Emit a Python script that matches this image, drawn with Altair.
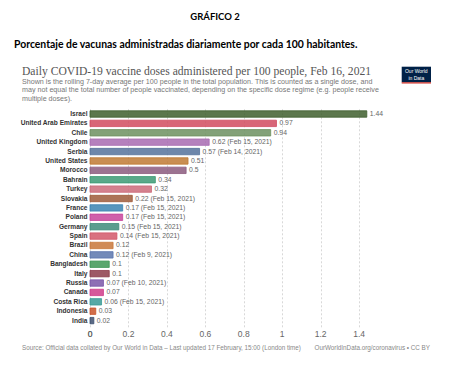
import altair as alt
import pandas as pd

countries = ["Israel", "United Arab Emirates", "Chile", "United Kingdom", "Serbia",
             "United States", "Morocco", "Bahrain", "Turkey", "Slovakia", "France",
             "Poland", "Germany", "Spain", "Brazil", "China", "Bangladesh", "Italy",
             "Russia", "Canada", "Costa Rica", "Indonesia", "India"]
values = [1.44, 0.97, 0.94, 0.62, 0.57, 0.51, 0.50, 0.34, 0.32, 0.22, 0.17, 0.17,
          0.15, 0.14, 0.12, 0.12, 0.10, 0.10, 0.07, 0.07, 0.06, 0.03, 0.02]
value_labels = ["1.44", "0.97", "0.94", "0.62", "0.57", "0.51", "0.5", "0.34", "0.32",
                "0.22", "0.17", "0.17", "0.15", "0.14", "0.12", "0.12", "0.1", "0.1",
                "0.07", "0.07", "0.06", "0.03", "0.02"]
dates = ["", "", "", "Feb 15, 2021", "Feb 14, 2021", "", "", "", "", "Feb 15, 2021",
         "Feb 15, 2021", "Feb 15, 2021", "Feb 15, 2021", "Feb 15, 2021", "", "Feb 9, 2021",
         "", "", "Feb 10, 2021", "", "Feb 15, 2021", "", ""]
colors = ["#3f5f2e", "#d14b5f", "#6d9160", "#a86bb1", "#55729b", "#c07a34", "#8b5a7e",
          "#3c9a74", "#cc6b7a", "#9e5a3a", "#3b84b2", "#c7439b", "#3d8c7a", "#d2586a",
          "#c8773a", "#5a75ad", "#3d9654", "#8c3c4a", "#7a56a8", "#cf3c8a", "#3a9a96",
          "#c9552b", "#3e5070"]
x_ticks = [0, 0.2, 0.4, 0.6, 0.8, 1.0, 1.2, 1.4]

df = pd.DataFrame({
    "country": countries,
    "value": values,
    "label": [v + (f" ({d})" if d else "") for v, d in zip(value_labels, dates)],
})
ticks_df = pd.DataFrame({"tick": x_ticks})

W, H = 346, 219
# plot-area origin in page coords
OX, OY = 90, 107.8

def px(x):
    return x - OX

def py(y):
    return y - OY

xscale = alt.Scale(domain=[0, 1.8], nice=False)

base = alt.Chart(df)

bars = base.mark_bar(fillOpacity=0.85, strokeWidth=0.8).encode(
    x=alt.X("value:Q", scale=xscale,
            axis=alt.Axis(values=x_ticks, title=None, grid=True, gridDash=[2, 2],
                          gridColor="#d8d8d8", domain=False, ticks=False, labels=False)),
    y=alt.Y("country:N", sort=countries,
            scale=alt.Scale(paddingInner=0.32, paddingOuter=0.32),
            axis=alt.Axis(title=None, domain=False, ticks=False, grid=False,
                          labelFont="Liberation Sans", labelFontWeight="bold",
                          labelFontSize=6.6, labelColor="#333", labelPadding=3)),
    color=alt.Color("country:N", scale=alt.Scale(domain=countries, range=colors), legend=None),
    stroke=alt.Stroke("country:N", scale=alt.Scale(domain=countries, range=colors), legend=None),
)

labels = base.mark_text(align="left", baseline="middle", dx=3, fontSize=6.8,
                        font="Liberation Sans", color="#666").encode(
    x="value:Q",
    y=alt.Y("country:N", sort=countries),
    text="label:N",
)

tick_labels = alt.Chart(ticks_df).mark_text(
    align="center", baseline="middle", fontSize=8.5, font="Liberation Sans",
    color="#666").encode(
    x=alt.X("tick:Q", scale=xscale),
    y=alt.value(py(334)),
    text=alt.Text("tick:Q", format="~g"),
)

def txt(s, x, y, size, color, font="Liberation Sans", weight="normal", align="left"):
    return alt.Chart(pd.DataFrame({"t": [s]})).mark_text(
        align=align, baseline="middle", fontSize=size, color=color, font=font,
        fontWeight=weight).encode(x=alt.value(px(x)), y=alt.value(py(y)), text="t:N")

zero_label = txt("0", 90, 334, 8.5, "#666", align="center")

header1 = txt("GRÁFICO 2", 215, 17, 9.5, "#000", font="Lato", weight="bold", align="center")
header2 = txt("Porcentaje de vacunas administradas diariamente por cada 100 habitantes.",
              14, 44.5, 10.4, "#000", font="Lato", weight="bold")
title = txt("Daily COVID-19 vaccine doses administered per 100 people, Feb 16, 2021",
            22, 71.7, 11.6, "#555", font="Liberation Serif")
sub1 = txt("Shown is the rolling 7-day average per 100 people in the total population. This is counted as a single dose, and",
           22, 81.5, 7.15, "#777")
sub2 = txt("may not equal the total number of people vaccinated, depending on the specific dose regime (e.g. people receive",
           22, 90.2, 7.15, "#777")
sub3 = txt("multiple doses).", 22, 98.8, 7.15, "#777")
source = txt("Source: Official data collated by Our World in Data – Last updated 17 February, 15:00 (London time)",
             22, 348, 6.3, "#888")
credit = txt("OurWorldInData.org/coronavirus • CC BY", 430, 348, 6.3, "#888", align="right")

logo_box = alt.Chart(pd.DataFrame({"a": [0]})).mark_rect(color="#002147").encode(
    x=alt.value(px(401.7)), x2=alt.value(px(431)),
    y=alt.value(py(66.7)), y2=alt.value(py(82.3)))
logo_line = alt.Chart(pd.DataFrame({"a": [0]})).mark_rect(color="#ce261e").encode(
    x=alt.value(px(401.7)), x2=alt.value(px(431)),
    y=alt.value(py(82.3)), y2=alt.value(py(83.5)))
logo1 = txt("Our World", 416.3, 71.3, 5, "#fff", align="center")
logo2 = txt("in Data", 416.3, 77.5, 5, "#fff", align="center")

chart = alt.layer(bars, labels, tick_labels, zero_label, header1, header2, title, sub1, sub2,
                  sub3, source, credit, logo_box, logo_line, logo1, logo2).properties(
    width=W, height=H,
    autosize=alt.AutoSizeParams(type="none"),
    padding={"left": OX - 8, "top": OY - 8, "right": 434 - (OX - 8) - W,
             "bottom": 358 - (OY - 8) - H},
    background="white",
).configure_view(stroke=None)

chart.save("out.html", embed_options={"renderer": "svg", "actions": False})
